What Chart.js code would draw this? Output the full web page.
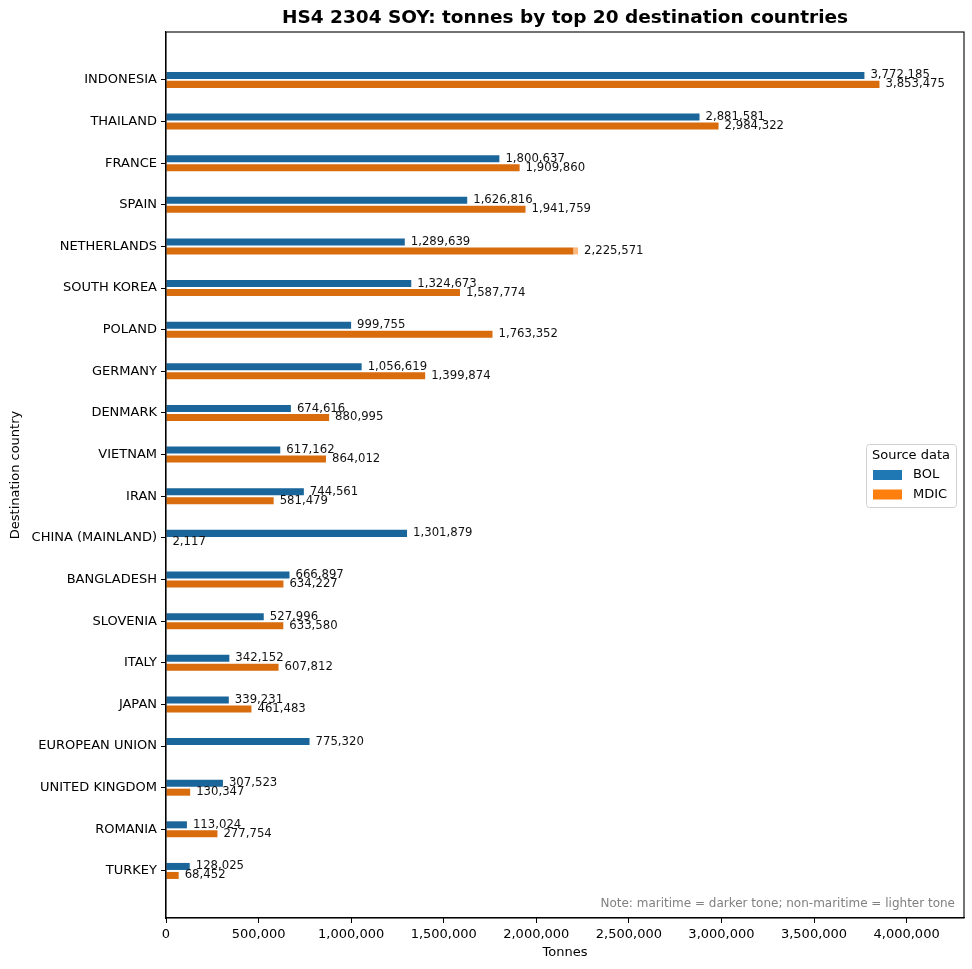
<!DOCTYPE html>
<html>
<head>
<meta charset="utf-8">
<title>HS4 2304 SOY</title>
<script src="https://cdn.jsdelivr.net/npm/chart.js@4.4.1/dist/chart.umd.min.js"></script>
<style>
  html, body { margin: 0; padding: 0; background: #fff; }
  canvas { display: block; }
</style>
</head>
<body>
<canvas id="chart" width="972" height="969"></canvas>
<script>
const countries = [
  'INDONESIA', 'THAILAND', 'FRANCE', 'SPAIN', 'NETHERLANDS', 'SOUTH KOREA', 'POLAND',
  'GERMANY', 'DENMARK', 'VIETNAM', 'IRAN', 'CHINA (MAINLAND)', 'BANGLADESH', 'SLOVENIA',
  'ITALY', 'JAPAN', 'EUROPEAN UNION', 'UNITED KINGDOM', 'ROMANIA', 'TURKEY'
];

// tonnes, split maritime / non-maritime per source
const bolMaritime = [3772185, 2881581, 1800637, 1626816, 1289639, 1324673, 999755, 1056619, 674616, 617162,
  744561, 1301879, 666897, 527996, 342152, 339231, 775320, 307523, 113024, 128025];
const bolNonMaritime = [0, 0, 0, 0, 0, 0, 0, 0, 0, 0, 0, 0, 0, 0, 0, 0, 0, 0, 0, 0];
const mdicMaritime = [3853475, 2984322, 1909860, 1941759, 2200000, 1587774, 1763352, 1399874, 880995, 864012,
  581479, 2117, 634227, 633580, 607812, 461483, 0, 130347, 277754, 68452];
const mdicNonMaritime = [0, 0, 0, 0, 25571, 0, 0, 0, 0, 0, 0, 0, 0, 0, 0, 0, 0, 0, 0, 0];

const xTicks = [0, 500000, 1000000, 1500000, 2000000, 2500000, 3000000, 3500000, 4000000];
const xMax = 4310000;

const FONT = "'DejaVu Sans', sans-serif";
Chart.defaults.font.family = FONT;
Chart.defaults.color = '#000';

const fmt = v => String(Math.round(v)).replace(/\B(?=(\d{3})+(?!\d))/g, ',');
const toPoints = arr => arr.map((v, i) => ({ x: v, y: i }));

const datasets = [
  { label: 'BOL maritime', stack: 'BOL', data: toPoints(bolMaritime), backgroundColor: '#1a6599' },
  { label: 'BOL non-maritime', stack: 'BOL', data: toPoints(bolNonMaritime), backgroundColor: '#8fbbd9' },
  { label: 'MDIC maritime', stack: 'MDIC', data: toPoints(mdicMaritime), backgroundColor: '#d96c0c' },
  { label: 'MDIC non-maritime', stack: 'MDIC', data: toPoints(mdicNonMaritime), backgroundColor: '#fdb97d' }
];

// totals written at the end of each bar
const valueLabels = {
  id: 'valueLabels',
  afterDatasetsDraw(chart) {
    const ctx = chart.ctx;
    const xs = chart.scales.x;
    ctx.save();
    ctx.font = '11.7px ' + FONT;
    ctx.fillStyle = '#111';
    ctx.textAlign = 'left';
    ctx.textBaseline = 'middle';
    const pairs = [[0, bolMaritime, bolNonMaritime], [2, mdicMaritime, mdicNonMaritime]];
    pairs.forEach(([dsIndex, mar, non]) => {
      const meta = chart.getDatasetMeta(dsIndex);
      countries.forEach((c, i) => {
        const total = mar[i] + non[i];
        if (!total) return;
        const bar = meta.data[i];
        ctx.fillText(fmt(total), xs.getPixelForValue(total) + 6, bar.y);
      });
    });
    ctx.restore();
  }
};

// title, frame, legend box and note
const decorations = {
  id: 'decorations',
  afterDraw(chart) {
    const ctx = chart.ctx;
    const a = chart.chartArea;
    ctx.save();

    ctx.strokeStyle = '#000';
    ctx.lineWidth = 1.1;
    ctx.strokeRect(a.left, a.top, a.right - a.left, a.bottom - a.top);

    ctx.fillStyle = '#000';
    ctx.font = 'bold 18.5px ' + FONT;
    ctx.textAlign = 'center';
    ctx.textBaseline = 'middle';
    ctx.fillText('HS4 2304 SOY: tonnes by top 20 destination countries', (a.left + a.right) / 2, 18);

    ctx.fillStyle = '#808080';
    ctx.font = '12px ' + FONT;
    ctx.textAlign = 'right';
    ctx.fillText('Note: maritime = darker tone; non-maritime = lighter tone', a.right - 9, a.bottom - 14);

    // legend
    const lx = a.right - 98, ly = 444, lw = 90, lh = 63;
    ctx.beginPath();
    ctx.roundRect(lx + 0.5, ly + 0.5, lw, lh, 3);
    ctx.fillStyle = 'rgba(255,255,255,0.8)';
    ctx.fill();
    ctx.strokeStyle = '#d0d0d0';
    ctx.lineWidth = 1;
    ctx.stroke();

    ctx.fillStyle = '#000';
    ctx.font = '13px ' + FONT;
    ctx.textAlign = 'center';
    ctx.fillText('Source data', lx + lw / 2, ly + 12);
    const entries = [['BOL', '#1f77b4'], ['MDIC', '#ff7f0e']];
    entries.forEach(([name, color], k) => {
      const y = ly + 26 + k * 19.5;
      ctx.fillStyle = color;
      ctx.fillRect(lx + 7, y, 29, 10);
      ctx.fillStyle = '#000';
      ctx.textAlign = 'left';
      ctx.fillText(name, lx + 47, y + 5);
    });

    ctx.restore();
  }
};

new Chart(document.getElementById('chart'), {
  type: 'bar',
  data: { datasets },
  options: {
    indexAxis: 'y',
    responsive: false,
    animation: false,
    categoryPercentage: 0.432,
    barPercentage: 0.78,
    inflateAmount: 0,
    layout: { padding: { top: 32, right: 8, left: 0, bottom: 0 } },
    plugins: {
      legend: { display: false },
      tooltip: { enabled: false },
      title: { display: false }
    },
    scales: {
      x: {
        type: 'linear',
        stacked: true,
        min: 0,
        max: xMax,
        afterFit: s => { s.height = 51; },
        afterBuildTicks: s => { s.ticks = xTicks.map(v => ({ value: v })); },
        border: { display: true, color: '#000', width: 1.1 },
        grid: { drawOnChartArea: false, drawTicks: true, tickLength: 5, tickColor: '#000', tickWidth: 1 },
        ticks: {
          padding: 4,
          maxRotation: 0,
          autoSkip: false,
          color: '#000',
          font: { size: 13 },
          callback: v => fmt(v)
        },
        title: { display: true, text: 'Tonnes', color: '#000', font: { size: 13 }, padding: { top: 0, bottom: 9 } }
      },
      y: {
        type: 'linear',
        reverse: true,
        offset: false,
        min: -1.15,
        max: 20.13,
        afterFit: s => { s.width = 166; },
        afterBuildTicks: s => { s.ticks = countries.map((c, i) => ({ value: i })); },
        border: { display: true, color: '#000', width: 1.1 },
        grid: { offset: false, drawOnChartArea: false, drawTicks: true, tickLength: 5, tickColor: '#000', tickWidth: 1 },
        ticks: {
          autoSkip: false,
          padding: 4,
          color: '#000',
          font: { size: 13 },
          callback: v => countries[v] || ''
        },
        title: { display: true, text: 'Destination country', color: '#000', font: { size: 13 }, padding: { top: 8, bottom: 0 } }
      }
    }
  },
  plugins: [valueLabels, decorations]
});
</script>
</body>
</html>
